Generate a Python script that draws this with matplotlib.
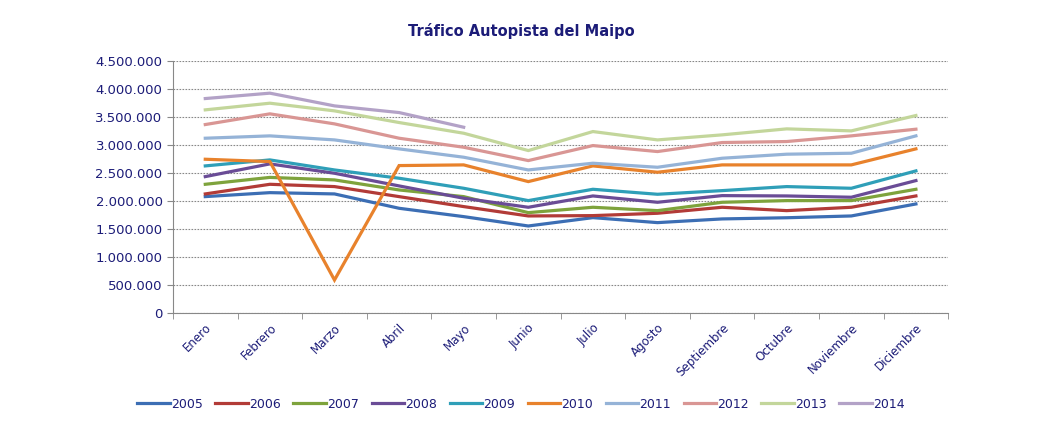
import numpy as np
import matplotlib.pyplot as plt
from matplotlib.ticker import FuncFormatter


## data

meses = ['Enero', 'Febrero', 'Marzo', 'Abril', 'Mayo', 'Junio', 'Julio',
         'Agosto', 'Septiembre', 'Octubre', 'Noviembre', 'Diciembre']

y2005 = [2077000, 2148000, 2125000, 1869000, 1720000, 1553000, 1702000, 1613000, 1679000, 1700000, 1732000, 1946000]
y2006 = [2125000, 2297000, 2256000, 2077000, 1899000, 1732000, 1738000, 1780000, 1887000, 1827000, 1887000, 2089000]
y2007 = [2297000, 2420000, 2375000, 2196000, 2077000, 1791000, 1887000, 1827000, 1976000, 2006000, 2006000, 2208000]
y2008 = [2434000, 2661000, 2494000, 2268000, 2048000, 1887000, 2089000, 1976000, 2095000, 2089000, 2066000, 2363000]
y2009 = [2625000, 2732000, 2553000, 2405000, 2226000, 2006000, 2208000, 2119000, 2184000, 2256000, 2226000, 2536000]
y2010 = [2744000, 2702000, 589000, 2631000, 2643000, 2345000, 2625000, 2512000, 2643000, 2643000, 2643000, 2929000]
y2011 = [3119000, 3161000, 3089000, 2929000, 2780000, 2553000, 2673000, 2601000, 2762000, 2834000, 2851000, 3161000]
y2012 = [3363000, 3554000, 3375000, 3119000, 2958000, 2720000, 2988000, 2881000, 3042000, 3060000, 3161000, 3280000]
y2013 = [3625000, 3744000, 3607000, 3399000, 3208000, 2899000, 3238000, 3089000, 3179000, 3286000, 3250000, 3524000]
y2014 = [3827000, 3923000, 3696000, 3577000, 3315000]

series = [('2005', y2005), ('2006', y2006), ('2007', y2007), ('2008', y2008),
          ('2009', y2009), ('2010', y2010), ('2011', y2011), ('2012', y2012),
          ('2013', y2013), ('2014', y2014)]

colores = ['#3c6eb4', '#b23b37', '#7ea33c', '#6a4c96', '#2f9fb8',
           '#e8822c', '#95b3d7', '#d99694', '#c3d69b', '#b3a2c7']

navy = '#1c1c78'


## plot

fig = plt.figure(figsize=(10.42, 4.44), dpi=100)
ax = fig.add_axes([0.166, 0.295, 0.744, 0.568])

x = np.arange(len(meses))
for (nombre, vals), c in zip(series, colores):
    ax.plot(x[:len(vals)], vals, color=c, lw=2.3, label=nombre,
            solid_joinstyle='miter')

ax.set_xlim(-0.5, len(meses) - 0.5)
ax.set_ylim(0, 4500000)
ax.set_yticks(np.arange(0, 4500001, 500000))
ax.yaxis.set_major_formatter(FuncFormatter(lambda v, p: f'{int(v):,}'.replace(',', '.')))

ax.set_xticks(x)
ax.set_xticklabels(meses, rotation=45, ha='right', va='top', rotation_mode='anchor')
ax.set_xticks(np.arange(-0.5, len(meses)), minor=True)
ax.tick_params(axis='x', which='major', length=0, pad=6, labelsize=8.5, labelcolor=navy)
ax.tick_params(axis='x', which='minor', length=4, color='#888888', direction='out')
ax.tick_params(axis='y', length=4, color='#888888', labelsize=9.5, labelcolor=navy)

ax.grid(axis='y', ls=(0, (1.5, 1.2)), color='#888888', lw=0.8)
ax.set_axisbelow(True)
for s in ['top', 'right']:
    ax.spines[s].set_visible(False)
for s in ['left', 'bottom']:
    ax.spines[s].set_color('#888888')

fig.text(0.5, 0.93, 'Tráfico Autopista del Maipo', ha='center', va='center',
         fontsize=10.5, fontweight='bold', color=navy)

leg = fig.legend(loc='center', bbox_to_anchor=(0.5, 0.09), ncol=10, frameon=False,
                 fontsize=9, handlelength=2.6, handletextpad=0.1, columnspacing=1.0)
for t in leg.get_texts():
    t.set_color(navy)

plt.savefig('out.png', dpi=100)
